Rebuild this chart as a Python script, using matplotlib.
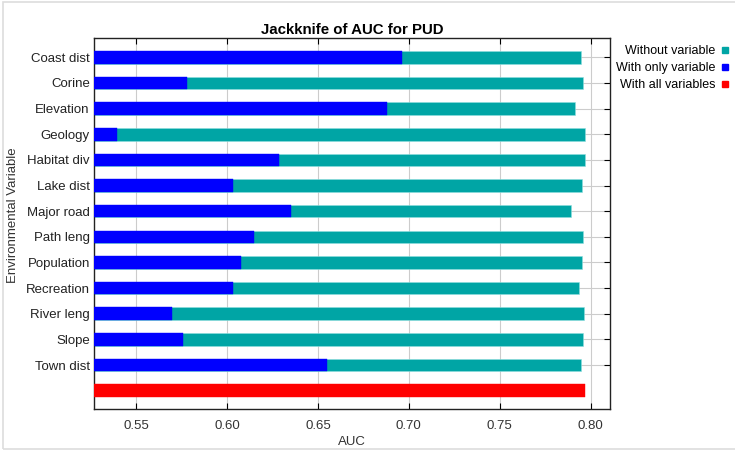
import matplotlib
matplotlib.use("Agg")
import matplotlib.pyplot as plt
from matplotlib.lines import Line2D
from matplotlib.patches import Rectangle

plt.rcParams['font.family'] = ['Liberation Sans', 'DejaVu Sans']

variables = ["Coast dist", "Corine", "Elevation", "Geology", "Habitat div", "Lake dist",
             "Major road", "Path leng", "Population", "Recreation", "River leng", "Slope",
             "Town dist"]
without_variable = [0.7947, 0.7958, 0.7912, 0.7970, 0.7970, 0.7953, 0.7893, 0.7958,
                    0.7953, 0.7936, 0.7965, 0.7958, 0.7947]
with_only_variable = [0.6961, 0.5783, 0.6881, 0.5395, 0.6284, 0.6031, 0.6352, 0.6147,
                      0.6077, 0.6031, 0.5699, 0.5758, 0.6549]
with_all_variables = 0.7970
x_ticks = [0.55, 0.60, 0.65, 0.70, 0.75, 0.80]

teal = "#00A5A5"
blue = "#0000FF"
red = "#FF0000"

fig = plt.figure(figsize=(7.35, 4.51), dpi=100)
ax = fig.add_axes([94/735, 1-409/451, (610-94)/735, (409-38)/451])

n = len(variables)
ypos = list(range(n))
xmin = 0.5269
h = 0.49
ax.barh(ypos, [v - xmin for v in without_variable], left=xmin, height=h, color=teal,
        edgecolor="#8fdede", linewidth=0.4, zorder=2)
ax.barh(ypos, [v - xmin for v in with_only_variable], left=xmin, height=h, color=blue,
        edgecolor=blue, linewidth=0.3, zorder=3)
ax.barh([n], [with_all_variables - xmin], left=xmin, height=h, color=red,
        edgecolor=red, linewidth=0.3, zorder=3)

ax.set_xlim(xmin, 0.8106)
ax.set_ylim(n + 0.713, -0.752)
ax.set_xticks(x_ticks)
ax.set_xticklabels([f"{t:.2f}" for t in x_ticks])
ax.set_yticks(ypos)
ax.set_yticklabels(variables)
ax.tick_params(axis='x', direction='in', top=True, bottom=True, length=4, width=0.8,
               labelsize=9.5, labelcolor="#333333", pad=8)
ax.tick_params(axis='y', direction='in', left=False, right=True, length=4, width=0.8,
               labelsize=9.5, labelcolor="#222222", pad=3)
ax.grid(True, color="#cccccc", linewidth=0.8, zorder=0)
ax.set_axisbelow(True)
for s in ax.spines.values():
    s.set_color("#222222")
    s.set_linewidth(1.0)

ax.set_title("Jackknife of AUC for PUD", fontsize=10.8, fontweight='bold', pad=3)
ax.set_xlabel("AUC", fontsize=9.5, color="#333333", labelpad=3)
ax.set_ylabel("Environmental Variable", fontsize=9.5, color="#333333")
ax.yaxis.set_label_coords(-0.145, 0.523)

handles = [Line2D([0], [0], marker='s', linestyle='none', color=teal, markersize=4.5),
           Line2D([0], [0], marker='s', linestyle='none', color=blue, markersize=4.5),
           Line2D([0], [0], marker='s', linestyle='none', color=red, markersize=4.5)]
labels = ["Without variable", "With only variable", "With all variables"]
fig.legend(handles, labels, loc='upper right', bbox_to_anchor=(729/735, 1-45/451),
           frameon=False, markerfirst=False, fontsize=9.0, handlelength=0.6,
           handletextpad=0.5, labelspacing=0.42, borderpad=0, borderaxespad=0)

fig.add_artist(Rectangle((3/735, 1-449/451), 1, 447/451, transform=fig.transFigure,
                         fill=False, edgecolor="#dddddd", linewidth=1.2))

fig.savefig("out.png", dpi=100)
